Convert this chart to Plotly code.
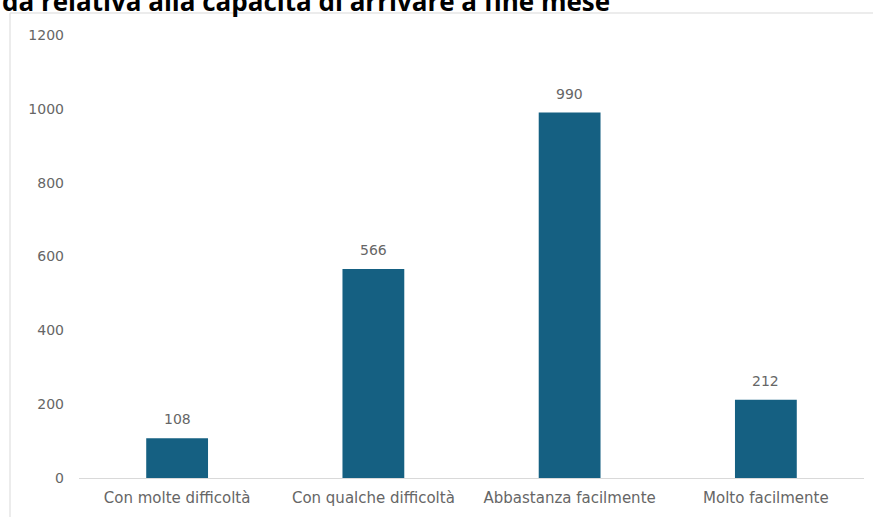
import plotly.graph_objects as go

categories = ["Con molte difficoltà", "Con qualche difficoltà", "Abbastanza facilmente", "Molto facilmente"]
values = [108, 566, 990, 212]
y_ticks = [0, 200, 400, 600, 800, 1000, 1200]
title_text = "da relativa alla capacità di arrivare a fine mese"

W, H = 873, 517
ml, mr, mt, mb = 79, 9, 35, 39
pw, ph = W - ml - mr, H - mt - mb

def px_x(p):
    return (p - ml) / pw

def px_y(p):
    return 1 - (p - mt) / ph

gray = "#666666"
font_fam = "DejaVu Sans, sans-serif"

fig = go.Figure()
fig.add_trace(go.Bar(
    x=categories, y=values,
    marker=dict(color="#156082", line=dict(width=0)),
    width=0.315,
    hoverinfo="skip",
))

for c, v in zip(categories, values):
    fig.add_annotation(x=c, y=v, text=str(v), showarrow=False,
                       xref="x", yref="y", yanchor="middle", yshift=19,
                       font=dict(size=14, color=gray, family=font_fam))

fig.add_annotation(x=px_x(0), y=px_y(1), xref="paper", yref="paper",
                   xanchor="left", yanchor="middle", showarrow=False,
                   text="<b>" + title_text + "</b>",
                   font=dict(size=26, color="#000000", family="Open Sans, sans-serif"))

fig.add_shape(type="rect", xref="paper", yref="paper",
              x0=px_x(10), x1=px_x(885), y0=px_y(530), y1=px_y(13),
              line=dict(color="#d9d9d9", width=1), fillcolor="rgba(0,0,0,0)", layer="below")

fig.update_layout(
    width=W, height=H,
    margin=dict(l=ml, r=mr, t=mt, b=mb),
    paper_bgcolor="white", plot_bgcolor="white",
    showlegend=False,
    xaxis=dict(showgrid=False, showline=True, linecolor="#d9d9d9", linewidth=1,
               ticks="", tickfont=dict(size=15, color=gray, family=font_fam),
               ticklabelstandoff=6, zeroline=False),
    yaxis=dict(range=[0, 1200], tickvals=y_ticks, showgrid=False, zeroline=False,
               showline=False, ticks="", ticklabelstandoff=14,
               tickfont=dict(size=14, color=gray, family=font_fam)),
)

fig.write_html("out.html")
